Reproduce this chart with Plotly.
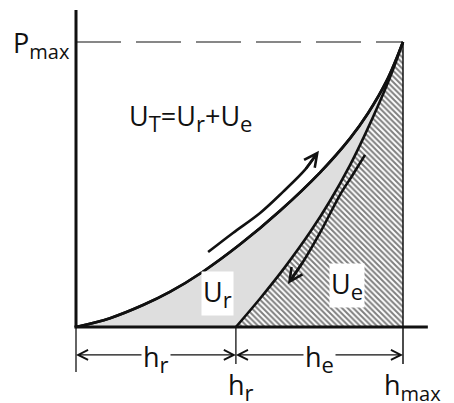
import plotly.graph_objects as go

# Indentation test: load-displacement curve (normalised units, h_max = 1, P_max = 1)
H_MAX = 1.0
H_R = 0.489
P_MAX = 1.0

# loading branch
load_h = [0.0, 0.104, 0.205, 0.287, 0.388, 0.502, 0.624, 0.746, 0.838, 0.893, 0.951, 1.0]
load_P = [0.0, 0.031, 0.077, 0.123, 0.194, 0.290, 0.408, 0.542, 0.662, 0.750, 0.866, 1.0]

# unloading branch
unload_h = [0.489, 0.563, 0.639, 0.716, 0.777, 0.838, 0.884, 0.930, 0.966, 1.0]
unload_P = [0.0, 0.100, 0.210, 0.333, 0.443, 0.568, 0.676, 0.793, 0.893, 1.0]

# direction arrows drawn beside the two branches
up_arrow_h = [0.404, 0.480, 0.563, 0.633, 0.700, 0.743]
up_arrow_P = [0.263, 0.330, 0.400, 0.474, 0.551, 0.618]
down_arrow_h = [0.884, 0.844, 0.807, 0.746, 0.694, 0.648]
down_arrow_P = [0.604, 0.530, 0.463, 0.330, 0.228, 0.151]

FONT = "Open Sans"
INK = "#111111"
MAIN_PX = 27
SUB_PX = 22


def sub(s, px=SUB_PX):
    return f"<sub><span style='font-size:{px}px'>{s}</span></sub>"


fig = go.Figure()

# total work under the loading branch (grey)
fig.add_trace(go.Scatter(
    x=load_h, y=load_P, mode="lines", line=dict(color=INK, width=2.6, shape="spline"),
    fill="tozeroy", fillcolor="#dedede", hoverinfo="skip"))

# elastic work under the unloading branch (hatched)
fig.add_trace(go.Scatter(
    x=unload_h, y=unload_P, mode="lines", line=dict(color=INK, width=2.6, shape="spline"),
    fill="tozeroy", fillcolor="white",
    fillpattern=dict(shape="\\", fgcolor="black", bgcolor="white", size=4, solidity=0.5),
    hoverinfo="skip"))

# loading branch redrawn on top
fig.add_trace(go.Scatter(
    x=load_h, y=load_P, mode="lines", line=dict(color=INK, width=2.6, shape="spline"),
    hoverinfo="skip"))

# arrow bodies
for ah, aP in ((up_arrow_h, up_arrow_P), (down_arrow_h, down_arrow_P)):
    fig.add_trace(go.Scatter(
        x=ah[:-1] + [ah[-1] - 0.3 * (ah[-1] - ah[-2])],
        y=aP[:-1] + [aP[-1] - 0.3 * (aP[-1] - aP[-2])],
        mode="lines", line=dict(color=INK, width=2.6, shape="spline"), hoverinfo="skip"))

annotations = []
# arrow heads
for ah, aP in ((up_arrow_h, up_arrow_P), (down_arrow_h, down_arrow_P)):
    annotations.append(dict(
        x=ah[-1], y=aP[-1], ax=ah[-2], ay=aP[-2], xref="x", yref="y", axref="x", ayref="y",
        text="", showarrow=True, arrowhead=5, arrowsize=1.0, arrowwidth=2.6,
        arrowcolor=INK, standoff=0))

# dimension line below the axis
DIM_Y = -0.098
mid_r = H_R / 2
mid_e = (H_R + H_MAX) / 2
for head, tail in ((0.0, mid_r), (H_R, mid_r), (H_R, mid_e), (H_MAX, mid_e)):
    annotations.append(dict(
        x=head, y=DIM_Y, ax=tail, ay=DIM_Y, xref="x", yref="y", axref="x", ayref="y",
        text="", showarrow=True, arrowhead=5, arrowsize=1.5, arrowwidth=1.3,
        arrowcolor=INK, standoff=0))


def label(text, x, y, xanchor="center", yanchor="middle", bg=None, pad=0):
    d = dict(text=text, x=x, y=y, xref="x", yref="y", showarrow=False,
             xanchor=xanchor, yanchor=yanchor,
             font=dict(family=FONT, size=MAIN_PX, color=INK), borderpad=pad)
    if bg:
        d["bgcolor"] = bg
    annotations.append(d)


label("P" + sub("max", 20), -0.016, P_MAX - 0.01, xanchor="right")
label("U" + sub("T") + "=U" + sub("r") + "+U" + sub("e"), 0.349, 0.735)
label("U" + sub("r"), 0.433, 0.118, bg="white", pad=1)
label("U" + sub("e"), 0.829, 0.146, bg="white", pad=1)
label("h" + sub("r"), mid_r, DIM_Y - 0.012, bg="white", pad=1)
label("h" + sub("e"), mid_e, DIM_Y - 0.012, bg="white", pad=1)
label("h" + sub("r"), 0.505, -0.209)
label("h" + sub("max", 20), 1.029, -0.209)

shapes = [
    # axes
    dict(type="line", x0=0, x1=0, y0=0, y1=1.112, line=dict(color=INK, width=3)),
    dict(type="line", x0=-0.005, x1=1.076, y0=0, y1=0, line=dict(color=INK, width=3)),
    dict(type="line", x0=0, x1=0, y0=-0.158, y1=0, line=dict(color=INK, width=1.3)),
    # P_max level
    dict(type="line", x0=0, x1=H_MAX, y0=P_MAX, y1=P_MAX,
         line=dict(color=INK, width=1.2, dash="45px,15px")),
    # h_max and h_r extension lines
    dict(type="line", x0=H_MAX, x1=H_MAX, y0=-0.13, y1=P_MAX, line=dict(color=INK, width=1.5)),
    dict(type="line", x0=H_R, x1=H_R, y0=-0.13, y1=0, line=dict(color=INK, width=1.3)),
]

fig.update_layout(
    width=454, height=403, margin=dict(l=0, r=0, t=0, b=0),
    paper_bgcolor="white", plot_bgcolor="white", showlegend=False,
    xaxis=dict(range=[-76 / 327, 378 / 327], visible=False, fixedrange=True),
    yaxis=dict(range=[-76 / 285, 327 / 285], visible=False, fixedrange=True),
    annotations=annotations, shapes=shapes,
)

fig.write_html("out.html")
